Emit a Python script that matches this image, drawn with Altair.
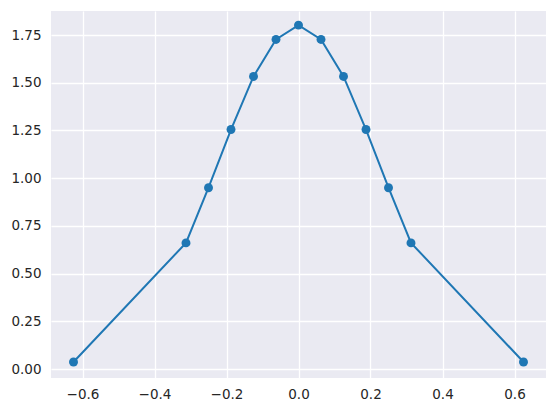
import altair as alt
import pandas as pd

x_vals = [-0.625, -0.3125, -0.25, -0.1875, -0.125, -0.0625, 0.0,
          0.0625, 0.125, 0.1875, 0.25, 0.3125, 0.625]
y_vals = [0.037, 0.661, 0.950, 1.255, 1.533, 1.727, 1.802,
          1.727, 1.533, 1.255, 0.950, 0.661, 0.037]
x_ticks = [-0.6, -0.4, -0.2, 0.0, 0.2, 0.4, 0.6]
y_ticks = [0.0, 0.25, 0.5, 0.75, 1.0, 1.25, 1.5, 1.75]

df = pd.DataFrame({"x": x_vals, "y": y_vals})

xenc = alt.X("x:Q", scale=alt.Scale(domain=[-0.6875, 0.6875], nice=False, zero=False),
             axis=alt.Axis(values=x_ticks, format=".1f", title=None))
yenc = alt.Y("y:Q", scale=alt.Scale(domain=[-0.047, 1.876], nice=False, zero=False),
             axis=alt.Axis(values=y_ticks, format=".2f", title=None))

line = alt.Chart(df).mark_line(color="#1f77b4", strokeWidth=2).encode(x=xenc, y=yenc)
pts = alt.Chart(df).mark_circle(color="#1f77b4", size=80, opacity=1).encode(x=xenc, y=yenc)

chart = (line + pts).properties(
    width=495, height=367,
    autosize=alt.AutoSizeParams(type="none"),
    padding={"left": 43, "top": 3, "right": 2, "bottom": 24},
).configure_view(
    fill="#EAEAF2", stroke=None, strokeWidth=0
).configure_axis(
    grid=True, gridColor="white", gridWidth=1.3, domain=False, ticks=False, tickSize=0,
    labelFont="DejaVu Sans", labelFontSize=13.5, labelColor="#262626",
).configure_axisX(labelPadding=9).configure_axisY(labelPadding=10)

chart.save("out.html", embed_options={"renderer": "svg", "actions": False})
